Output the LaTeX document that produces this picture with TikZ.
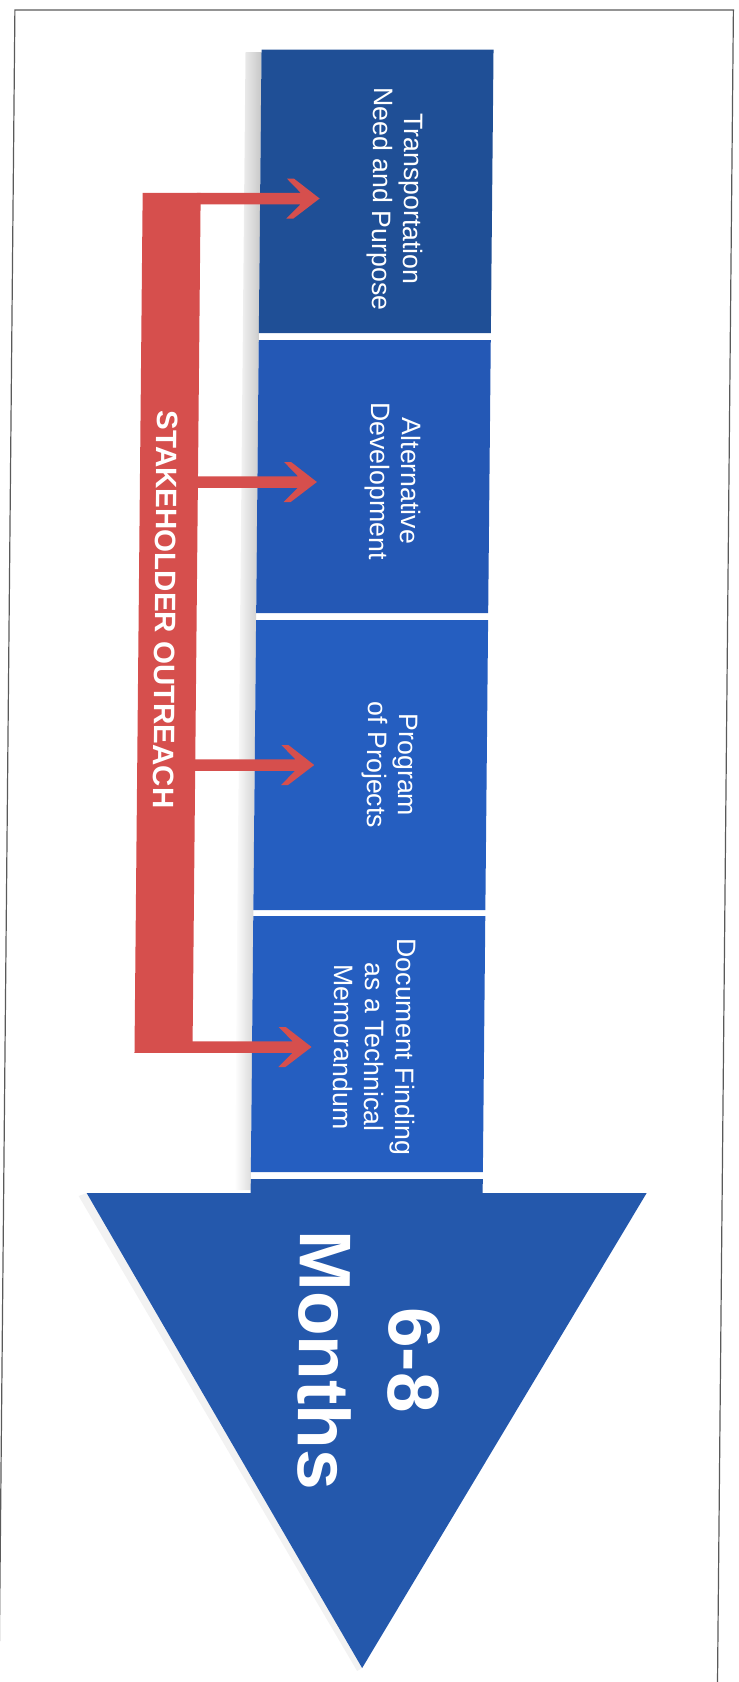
\documentclass[tikz,border=0pt]{standalone}
\usepackage{fontspec}
\setmainfont{Liberation Sans}
\usetikzlibrary{calc}
\definecolor{boxA}{RGB}{31,79,150}
\definecolor{boxB}{RGB}{36,88,181}
\definecolor{boxC}{RGB}{37,94,192}
\definecolor{boxD}{RGB}{37,94,192}
\definecolor{triC}{RGB}{36,88,172}
\definecolor{redC}{RGB}{214,79,77}
\definecolor{frameC}{RGB}{90,90,90}
\begin{document}
\begin{tikzpicture}[x=1pt,y=-1pt,
  stepbox/.style={rectangle, draw=none, inner sep=0pt, minimum width=232pt},
  steptext/.style={rotate=-90, anchor=base, align=center, text=white, inner sep=0pt,
    font=\fontsize{26.7}{31}\selectfont},
  redbar/.style={rectangle, draw=none, fill=redC, inner sep=0pt, minimum width=58pt, minimum height=860pt}]
\useasboundingbox (0,0) rectangle (739,1682);
\begin{scope}[xslant=0.0095, transform shape]
% frame
\draw[frameC, line width=1.2pt] (15,1690) -- (15,10) -- (733.5,10) -- (733.5,1690);
% shadows
\shade[left color=white, right color=black!22] (246,52) rectangle (262,1190);
\fill[black, opacity=0.05] (90,1196) -- (373,1671) -- (378,1668) -- (98,1193) -- cycle;
% steps
\node[stepbox, fill=boxA, minimum height=283.5pt] (b1) at (378,191.25) {};
\node[stepbox, fill=boxB, minimum height=273pt]   (b2) at (378,476.5) {};
\node[stepbox, fill=boxC, minimum height=290pt]   (b3) at (378,765) {};
\node[stepbox, fill=boxD, minimum height=256pt]   (b4) at (378,1044) {};
% big arrow (tail + triangle)
\fill[triC] (262,1179) -- (494,1179) -- (494,1193) -- (658,1193) -- (378,1668) -- (98,1193) -- (262,1193) -- cycle;
% texts (base anchor = baseline of the last line)
\node[steptext] (t1) at (375,199) {Transportation\\Need and Purpose};
\node[steptext] (t2) at (375,481) {Alternative\\Development};
\node[steptext] (t3) at (375,765) {Program\\of Projects};
\node[steptext] (t4) at (344,1047) {Document Finding\\as a Technical\\Memorandum};
\node[rotate=-90, anchor=base, align=center, text=white, inner sep=0pt,
  font=\bfseries\fontsize{73}{90}\selectfont] (months) at (312,1360) {6-8\\Months};
% stakeholder outreach
\node[redbar] (bar) at (173.5,622.75) {};
\node[rotate=-90, anchor=base, text=white, inner sep=0pt,
  font=\bfseries\fontsize{29.5}{35}\selectfont] (outreach) at (161,609.5) {STAKEHOLDER OUTREACH};
\coordinate (a1) at (321.5,198.5);
\coordinate (a2) at (321.5,482);
\coordinate (a3) at (321.5,765);
\coordinate (a4) at (321.5,1047);
\foreach \c in {a1,a2,a3,a4}{
  \fill[redC] ($(bar.east |- \c)+(-4,-5.75)$) -- ($(\c)+(-19,-5.75)$) -- ($(\c)+(-33,-20)$)
    -- ($(\c)+(-26,-20)$) -- (\c) -- ($(\c)+(-26,20)$) -- ($(\c)+(-33,20)$)
    -- ($(\c)+(-19,5.75)$) -- ($(bar.east |- \c)+(-4,5.75)$) -- cycle;
}
\end{scope}
\end{tikzpicture}
\end{document}
